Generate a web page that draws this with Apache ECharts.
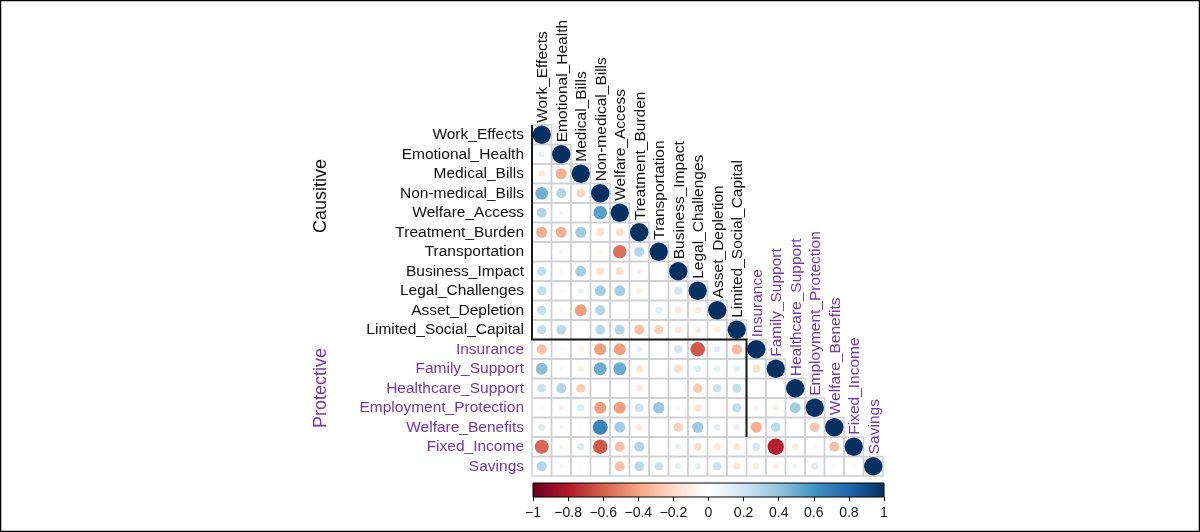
<!DOCTYPE html>
<html><head><meta charset="utf-8">
<script src="https://cdn.jsdelivr.net/npm/echarts@6/dist/echarts.min.js"></script>
<style>html,body{margin:0;padding:0;background:#fff}#c{width:1200px;height:532px}</style>
</head><body><div id="c"></div>
<script>
const variables = ['Work_Effects','Emotional_Health','Medical_Bills','Non-medical_Bills','Welfare_Access','Treatment_Burden','Transportation','Business_Impact','Legal_Challenges','Asset_Depletion','Limited_Social_Capital','Insurance','Family_Support','Healthcare_Support','Employment_Protection','Welfare_Benefits','Fixed_Income','Savings'];
const causitiveCount = 11;
const groupNames = ['Causitive', 'Protective'];
// lower triangle: row i holds correlations with columns 0..i-1
const corrRows = [
  [],
  [0.10],
  [-0.12, -0.36],
  [0.48, 0.30, -0.22],
  [0.30, 0.07, 0.01, 0.55],
  [-0.36, -0.36, 0.36, -0.18, -0.18],
  [-0.04, 0.07, -0.05, -0.06, -0.55, 0.30],
  [0.25, 0.04, 0.35, -0.18, -0.18, -0.10, 0.03],
  [0.25, 0.04, 0.10, 0.35, 0.35, -0.10, 0.02, 0.20],
  [0.24, -0.05, -0.42, 0.30, 0.01, 0.01, 0.14, -0.14, -0.13],
  [0.24, 0.28, -0.02, 0.28, 0.30, -0.30, -0.25, -0.14, -0.12, -0.10],
  [-0.30, -0.05, -0.10, -0.42, -0.42, 0.10, 0.02, 0.20, -0.62, 0.13, -0.32],
  [0.42, -0.05, -0.10, 0.50, 0.50, -0.15, 0.02, -0.20, 0.15, 0.12, 0.12, -0.18],
  [0.22, 0.30, -0.25, 0.01, 0.01, -0.12, 0.01, 0.00, -0.26, 0.22, 0.24, 0.00, 0.00],
  [0.05, -0.07, 0.15, -0.42, -0.42, 0.22, 0.38, 0.06, -0.15, 0.02, 0.25, -0.08, -0.08, 0.35],
  [0.15, 0.06, -0.04, 0.66, 0.35, -0.12, 0.02, -0.25, 0.36, 0.12, 0.10, -0.36, 0.27, 0.01, -0.28],
  [-0.58, -0.06, 0.15, -0.62, -0.30, 0.30, -0.02, 0.10, -0.18, -0.14, -0.14, 0.18, -0.78, -0.12, -0.04, -0.30],
  [0.30, -0.06, -0.03, -0.03, -0.30, 0.28, 0.22, 0.12, 0.12, 0.22, -0.15, -0.12, -0.10, 0.08, 0.15, -0.03, 0.03]
];
// corner cells (col,row) of the black outline path
const rectPath = [[0, 0], [0, 11], [11, 11], [11, 16]];
const palette = ['#67001F','#B2182B','#D6604D','#F4A582','#FDDBC7','#FFFFFF','#D1E5F0','#92C5DE','#4393C3','#2166AC','#053061'];

const FONT = '"Liberation Sans", Arial, sans-serif';
const BLACK = '#111111', PURPLE = '#7438a0';
function hex2rgb(h){return [parseInt(h.slice(1,3),16),parseInt(h.slice(3,5),16),parseInt(h.slice(5,7),16)];}
function colorFor(r){
  const t = Math.max(0, Math.min(1, (r + 1) / 2)) * (palette.length - 1);
  const i = Math.min(palette.length - 2, Math.floor(t));
  const f = t - i;
  const a = hex2rgb(palette[i]), b = hex2rgb(palette[i + 1]);
  const c = a.map((v, k) => Math.round(v + (b[k] - v) * f));
  return 'rgb(' + c.join(',') + ')';
}
function labelColor(k){ return k < causitiveCount ? BLACK : PURPLE; }

const cells = [], circles = [], diag = [];
for (let i = 0; i < variables.length; i++) {
  for (let j = 0; j <= i; j++) {
    const r = (i === j) ? 1 : corrRows[i][j];
    cells.push([j, i]);
    circles.push([j, i, r]);
  }
  diag.push([i, i]);
}

const chart = echarts.init(document.getElementById('c'), null, {renderer: 'canvas'});
chart.setOption({
  animation: false,
  backgroundColor: '#ffffff',
  grid: [
    {left: 532, top: 125, width: 351, height: 351},
    {left: 533, top: 483, width: 351, height: 14}
  ],
  xAxis: [
    {gridIndex: 0, type: 'category', data: variables, show: false},
    {gridIndex: 1, type: 'value', min: -1, max: 1, interval: 0.2,
      axisLine: {show: false}, splitLine: {show: false},
      axisTick: {show: true, length: 4, lineStyle: {color: '#000', width: 1}},
      axisLabel: {color: '#111', fontSize: 14, fontFamily: FONT, margin: 9,
        formatter: v => { const x = parseFloat(v.toFixed(1)); return (x < 0 ? '\u2212' + Math.abs(x) : String(x)); }}}
  ],
  yAxis: [
    {gridIndex: 0, type: 'category', data: variables, inverse: true,
      axisLine: {show: false}, axisTick: {show: false}, splitLine: {show: false},
      axisLabel: {interval: 0, fontSize: 15.5, fontFamily: FONT, margin: 8,
        color: (val, idx) => labelColor(idx)}},
    {gridIndex: 1, type: 'value', min: 0, max: 1, show: false}
  ],
  graphic: [
    {type: 'rect', shape: {x: 0.5, y: 0.5, width: 1199, height: 531}, style: {fill: 'none', stroke: '#000', lineWidth: 1.5}, silent: true},
    {type: 'text', x: 321, y: 196, rotation: Math.PI / 2, style: {text: groupNames[0], font: '18px ' + FONT, fill: BLACK, textAlign: 'center', textVerticalAlign: 'middle'}},
    {type: 'text', x: 321, y: 388, rotation: Math.PI / 2, style: {text: groupNames[1], font: '18px ' + FONT, fill: PURPLE, textAlign: 'center', textVerticalAlign: 'middle'}}
  ],
  series: [
    {type: 'custom', xAxisIndex: 0, yAxisIndex: 0, data: cells, z: 1, silent: true,
      renderItem: (params, api) => {
        const c = api.coord([api.value(0), api.value(1)]);
        const s = api.size([1, 1]);
        return {type: 'rect', shape: {x: c[0] - s[0] / 2, y: c[1] - s[1] / 2, width: s[0], height: s[1]},
          style: {fill: null, stroke: '#cfcfd4', lineWidth: 1.4}};
      }},
    {type: 'scatter', xAxisIndex: 0, yAxisIndex: 0, data: circles, z: 3, silent: true,
      symbol: 'circle',
      symbolSize: v => 18.4 * Math.sqrt(Math.abs(v[2])),
      itemStyle: {color: p => colorFor(p.data[2]), opacity: 1}},
    {type: 'custom', xAxisIndex: 0, yAxisIndex: 0, data: [0], z: 4, silent: true,
      renderItem: (params, api) => {
        const s = api.size([1, 1]);
        const pts = rectPath.map(p => { const c = api.coord([p[0], p[1]]); return [c[0] - s[0] / 2, c[1] - s[1] / 2]; });
        return {type: 'polyline', shape: {points: pts}, style: {fill: null, stroke: '#1a1a1a', lineWidth: 2}};
      }},
    {type: 'custom', xAxisIndex: 0, yAxisIndex: 0, data: diag, z: 5, silent: true, clip: false,
      renderItem: (params, api) => {
        const k = api.value(0);
        const c = api.coord([k, api.value(1)]);
        return {type: 'text', x: c[0] + 1, y: c[1] - 12, rotation: Math.PI / 2,
          style: {text: variables[k], font: '15.5px ' + FONT, fill: labelColor(k), textAlign: 'left', textVerticalAlign: 'middle'}};
      }},
    {type: 'custom', xAxisIndex: 1, yAxisIndex: 1, data: [[-1, 1]], z: 2, silent: true,
      renderItem: (params, api) => {
        const p0 = api.coord([api.value(0), 0]);
        const p1 = api.coord([api.value(1), 1]);
        const grad = new echarts.graphic.LinearGradient(0, 0, 1, 0,
          palette.map((col, i) => ({offset: i / (palette.length - 1), color: col})));
        return {type: 'rect', shape: {x: p0[0], y: p1[1], width: p1[0] - p0[0], height: p0[1] - p1[1]},
          style: {fill: grad, stroke: '#000', lineWidth: 1}};
      }}
  ]
});
</script></body></html>
